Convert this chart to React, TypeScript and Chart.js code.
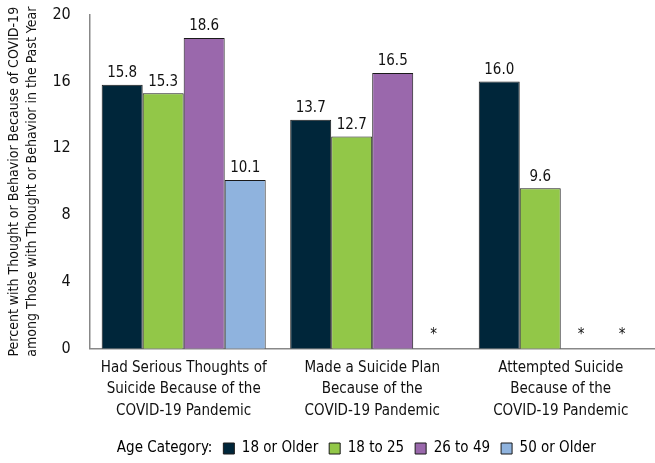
import { useEffect, useRef } from "react";
import Chart from "chart.js/auto";

const categories = [
  ["Had Serious Thoughts of", "Suicide Because of the", "COVID-19 Pandemic"],
  ["Made a Suicide Plan", "Because of the", "COVID-19 Pandemic"],
  ["Attempted Suicide", "Because of the", "COVID-19 Pandemic"],
];
const seriesNames = ["18 or Older", "18 to 25", "26 to 49", "50 or Older"];
const seriesColors = ["#00263A", "#92C748", "#9A68AC", "#8FB3DE"];
const older18 = [15.8, 13.7, 16.0];
const age18to25 = [15.3, 12.7, 9.6];
const age26to49 = [18.6, 16.5, null];
const older50 = [10.1, null, null];
const yTicks = [0, 4, 8, 12, 16, 20];

const FONT = "'Liberation Sans Narrow', 'DejaVu Sans Condensed', 'Roboto', sans-serif";

// value labels above bars, "*" where the estimate is suppressed
const barLabels = {
  id: "barLabels",
  afterDatasetsDraw(chart: Chart) {
    const ctx = chart.ctx;
    const yScale = chart.scales.y;
    ctx.save();
    ctx.font = `15px ${FONT}`;
    ctx.fillStyle = "#111";
    ctx.textAlign = "center";
    chart.data.datasets.forEach((ds, di) => {
      const meta = chart.getDatasetMeta(di);
      meta.data.forEach((bar: any, i: number) => {
        const v = ds.data[i] as number | null;
        if (v == null) {
          ctx.textBaseline = "middle";
          ctx.fillText("*", bar.x, yScale.getPixelForValue(0) - 14);
        } else {
          ctx.textBaseline = "bottom";
          ctx.fillText(v.toFixed(1), bar.x, bar.y - 4);
        }
      });
    });
    ctx.restore();
  },
};

export default function App() {
  const canvasRef = useRef<HTMLCanvasElement>(null);

  useEffect(() => {
    document.body.style.margin = "0";
    if (!canvasRef.current) return;
    const data = [older18, age18to25, age26to49, older50];
    const chart = new Chart(canvasRef.current, {
      type: "bar",
      data: {
        labels: categories,
        datasets: seriesNames.map((name, i) => ({
          label: name,
          data: data[i],
          backgroundColor: seriesColors[i],
          borderColor: "#1a1a1a",
          borderWidth: 1,
          categoryPercentage: 0.87,
          barPercentage: 1,
        })),
      },
      options: {
        responsive: false,
        animation: false,
        layout: { padding: { top: 0, right: 0, left: 5, bottom: -3 } },
        plugins: {
          tooltip: { enabled: false },
          legend: {
            position: "bottom",
            labels: {
              font: { family: FONT, size: 15 },
              color: "#111",
              boxWidth: 11,
              boxHeight: 11,
              padding: 11,
              generateLabels: (c: Chart) => [
                {
                  text: "        Age Category:",
                  fillStyle: "rgba(0,0,0,0)",
                  strokeStyle: "rgba(0,0,0,0)",
                  lineWidth: 0,
                  hidden: false,
                  datasetIndex: -1,
                },
                ...c.data.datasets.map((ds, i) => ({
                  text: ds.label as string,
                  fillStyle: seriesColors[i],
                  strokeStyle: "#1a1a1a",
                  lineWidth: 1,
                  hidden: false,
                  datasetIndex: i,
                })),
              ],
            },
          },
        },
        scales: {
          x: {
            grid: { display: false, drawTicks: false },
            border: { color: "#888", width: 1.5 },
            ticks: {
              font: { family: FONT, size: 15, lineHeight: 1.45 },
              color: "#111",
              padding: 8,
              maxRotation: 0,
            },
          },
          y: {
            min: 0,
            max: 20,
            afterBuildTicks: (axis: any) => {
              axis.ticks = yTicks.map((v) => ({ value: v }));
            },
            grid: { display: false, drawTicks: false },
            border: { color: "#888", width: 1.5 },
            // tick padding also pads the top of a vertical axis, so keep it small
            // and space the labels off the axis line with trailing blanks
            ticks: {
              font: { family: FONT, size: 16 },
              color: "#111",
              padding: 5,
              callback: (v: any) => `${v}   `,
            },
            title: {
              display: true,
              text: [
                "Percent with Thought or Behavior Because of COVID-19",
                "among Those with Thought or Behavior in the Past Year",
              ],
              font: { family: FONT, size: 14, lineHeight: 1.3 },
              color: "#111",
              padding: { top: 0, bottom: 6 },
            },
          },
        },
      },
      plugins: [barLabels],
    });
    return () => chart.destroy();
  }, []);

  return <canvas ref={canvasRef} width={655} height={463} style={{ display: "block" }} />;
}
